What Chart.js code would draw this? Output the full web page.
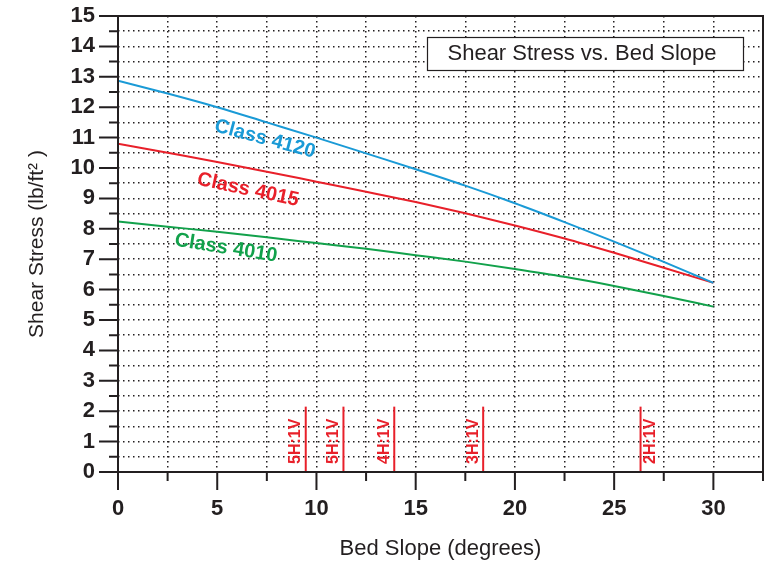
<!DOCTYPE html>
<html>
<head>
<meta charset="utf-8">
<script src="https://cdn.jsdelivr.net/npm/chart.js@4.4.0/dist/chart.umd.min.js"></script>
<style>
  html, body { margin: 0; padding: 0; background: #fff; }
  #wrap { width: 769px; height: 565px; }
</style>
</head>
<body>
<div id="wrap"><canvas id="chart"></canvas></div>
<script>
// bed slope in degrees
const slopes = [0, 2.5, 5, 7.5, 10, 12.5, 15, 17.5, 20, 22.5, 25, 27.5, 30];
// shear stress, lb/ft^2
const class4120 = [12.87, 12.45, 12.0, 11.5, 11.0, 10.48, 9.96, 9.42, 8.84, 8.22, 7.58, 6.91, 6.22];
const class4015 = [10.8, 10.5, 10.2, 9.88, 9.55, 9.22, 8.88, 8.51, 8.11, 7.68, 7.21, 6.72, 6.22];
const class4010 = [8.24, 8.07, 7.9, 7.72, 7.53, 7.34, 7.13, 6.92, 6.68, 6.42, 6.12, 5.79, 5.44];

// side slope markers (degrees)
const markerSlopes = [9.46, 11.36, 13.92, 18.4, 26.33];
const markerLabels = ["5H:1V", "5H:1V", "4H:1V", "3H:1V", "2H:1V"];
const markerHeight = 2.15;

// curve label anchors [slope, stress]
const curveNames = ["Class 4120", "Class 4015", "Class 4010"];
const curveLabelAt = [[7.4, 10.95], [6.55, 9.28], [5.44, 7.36]];

const INK = "#231f20";
const BLUE = "#1a9ad6";
const RED = "#e8202a";
const GREEN = "#12a14b";
const FONT = "'Liberation Sans', Arial, sans-serif";

function pts(ys) {
  return slopes.map((x, i) => ({ x: x, y: ys[i] }));
}

const datasets = [
  { label: curveNames[0], data: pts(class4120), borderColor: BLUE },
  { label: curveNames[1], data: pts(class4015), borderColor: RED },
  { label: curveNames[2], data: pts(class4010), borderColor: GREEN }
];
markerSlopes.forEach(function (s, i) {
  datasets.push({
    label: markerLabels[i],
    data: [{ x: s, y: 0 }, { x: s, y: markerHeight }],
    borderColor: RED,
    borderWidth: 2
  });
});

const decor = {
  id: "decor",
  afterDatasetsDraw(chart) {
    const ctx = chart.ctx;
    const xs = chart.scales.x, ys = chart.scales.y;

    // marker labels
    ctx.save();
    ctx.fillStyle = RED;
    ctx.font = "bold 16px " + FONT;
    ctx.textAlign = "left";
    ctx.textBaseline = "middle";
    markerSlopes.forEach(function (s, i) {
      const px = xs.getPixelForValue(s);
      const off = i === markerSlopes.length - 1 ? 10 : -10;
      ctx.save();
      ctx.translate(px + off, ys.getPixelForValue(0) - 8);
      ctx.rotate(-Math.PI / 2);
      ctx.fillText(markerLabels[i], 0, 0);
      ctx.restore();
    });
    ctx.restore();

    // curve labels
    const colors = [BLUE, RED, GREEN];
    const angles = [15, 12, 9];
    ctx.save();
    ctx.font = "bold 20px " + FONT;
    ctx.textAlign = "center";
    ctx.textBaseline = "middle";
    curveNames.forEach(function (n, i) {
      ctx.save();
      ctx.translate(xs.getPixelForValue(curveLabelAt[i][0]), ys.getPixelForValue(curveLabelAt[i][1]));
      ctx.rotate(angles[i] * Math.PI / 180);
      ctx.fillStyle = colors[i];
      ctx.fillText(n, 0, 0);
      ctx.restore();
    });
    ctx.restore();

    // title box
    ctx.save();
    ctx.fillStyle = "#fff";
    ctx.strokeStyle = INK;
    ctx.lineWidth = 1.2;
    ctx.fillRect(427, 37, 316, 33);
    ctx.strokeRect(427.5, 37.5, 316, 33);
    ctx.fillStyle = INK;
    ctx.font = "22px " + FONT;
    ctx.textAlign = "center";
    ctx.textBaseline = "middle";
    ctx.fillText("Shear Stress vs. Bed Slope", 582, 54);
    ctx.restore();
  },
  afterDraw(chart) {
    const ctx = chart.ctx;
    const xs = chart.scales.x, ys = chart.scales.y;
    const a = chart.chartArea;
    ctx.save();
    ctx.strokeStyle = INK;
    ctx.lineWidth = 2;
    ctx.beginPath();
    // frame
    ctx.moveTo(a.left, a.top); ctx.lineTo(a.right, a.top);
    ctx.lineTo(a.right, a.bottom); ctx.lineTo(a.left, a.bottom);
    ctx.closePath();
    // y ticks
    for (let v = 0; v <= 15; v += 0.5) {
      const py = ys.getPixelForValue(v);
      const len = Number.isInteger(v) ? 19 : 9;
      ctx.moveTo(a.left - len, py); ctx.lineTo(a.left, py);
    }
    // x ticks
    for (let v = 0; v <= 32.5; v += 2.5) {
      const px = xs.getPixelForValue(v);
      const len = v % 5 === 0 ? 18 : 9;
      ctx.moveTo(px, a.bottom); ctx.lineTo(px, a.bottom + len);
    }
    ctx.stroke();
    ctx.restore();
  }
};

new Chart(document.getElementById("chart"), {
  type: "line",
  data: { datasets: datasets },
  options: {
    responsive: true,
    maintainAspectRatio: false,
    animation: false,
    layout: { autoPadding: false, padding: { top: 16, right: 6, left: 0, bottom: 0 } },
    elements: {
      point: { radius: 0 },
      line: { borderWidth: 2, cubicInterpolationMode: "monotone", fill: false }
    },
    plugins: { legend: { display: false }, tooltip: { enabled: false } },
    scales: {
      x: {
        type: "linear",
        min: 0,
        max: 32.5,
        afterFit: function (s) { s.height = 93; s.paddingLeft = 0; s.paddingRight = 0; },
        ticks: {
          stepSize: 2.5,
          autoSkip: false,
          maxRotation: 0,
          padding: 24,
          color: INK,
          font: { family: FONT, size: 22, weight: "bold" },
          callback: function (v) { return (v % 5 === 0 && v <= 30) ? String(v) : ""; }
        },
        grid: { color: INK, lineWidth: 1.5, drawTicks: false },
        border: { display: false, dash: [1.5, 3.5] },
        title: {
          display: true,
          text: "Bed Slope (degrees)",
          color: INK,
          padding: { top: 0, bottom: 3 },
          font: { family: FONT, size: 22 }
        }
      },
      y: {
        min: 0,
        max: 15,
        afterFit: function (s) { s.width = 118; s.paddingTop = 0; s.paddingBottom = 0; },
        ticks: {
          stepSize: 0.5,
          autoSkip: false,
          padding: 23,
          color: INK,
          font: { family: FONT, size: 22, weight: "bold" },
          callback: function (v) { return Number.isInteger(v) ? String(v) : ""; }
        },
        grid: { color: INK, lineWidth: 1.5, drawTicks: false },
        border: { display: false, dash: [1.5, 3.5] },
        title: {
          display: true,
          text: "Shear Stress (lb/ft\u00B2 )",
          color: INK,
          padding: { top: 25, bottom: 0 },
          font: { family: FONT, size: 21 }
        }
      }
    }
  },
  plugins: [decor]
});
</script>
</body>
</html>
